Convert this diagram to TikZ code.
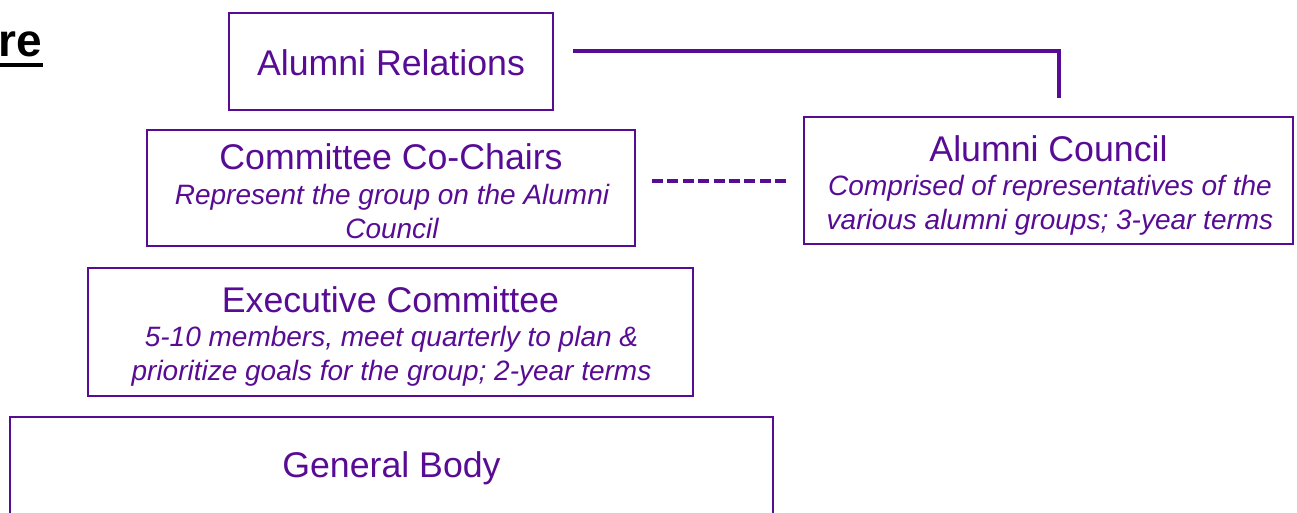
\documentclass[tikz,border=0pt]{standalone}
\usepackage{fontspec}
\setmainfont{Liberation Sans}
\definecolor{pur}{RGB}{88,12,148}
\begin{document}
\begin{tikzpicture}[x=1pt,y=-1pt,
  box/.style={draw=pur,line width=2.5pt,inner sep=0pt},
  ttl/.style={text=pur,font=\fontsize{35.7}{40}\selectfont,inner sep=0pt},
  dsc/.style={text=pur,font=\fontsize{28}{34}\selectfont\itshape,align=center,inner sep=0pt},
  link/.style={draw=pur,line width=3.3pt}]
\useasboundingbox (0,0) rectangle (1297,513);
% header fragment
\node[anchor=base east,font=\fontsize{46}{50}\selectfont\bfseries,inner sep=0pt] (hdr) at (42,57) {re};
\draw[line width=4pt] (0,65) -- (43,65);
% boxes
\node[box,minimum width=324pt,minimum height=97pt] (ar) at (391,61.5) {};
\node[ttl] (art) at (391,63) {Alumni Relations};
\node[box,minimum width=488pt,minimum height=116pt] (cc) at (391,188) {};
\node[ttl] (cct) at (391,157) {Committee Co-Chairs};
\node[dsc] (ccd) at (392,211) {Represent the group on the Alumni\\Council};
\node[box,minimum width=489pt,minimum height=127pt] (ac) at (1048.5,180.5) {};
\node[ttl] (act) at (1048.5,149) {Alumni Council};
\node[dsc] (acd) at (1050,205.5) {Comprised of representatives of the\\various alumni groups; 3-year terms};
\node[box,minimum width=605pt,minimum height=128pt] (ec) at (390.5,332) {};
\node[ttl] (ect) at (390.5,300) {Executive Committee};
\node[dsc] (ecd) at (391.5,356.5) {5-10 members, meet quarterly to plan \&\\prioritize goals for the group; 2-year terms};
\node[box,minimum width=763pt,minimum height=140pt] (gb) at (391.5,487) {};
\node[ttl] (gbt) at (391.5,468) {General Body};
% connectors
\coordinate (c1) at (573,51);
\coordinate (c2) at (1059,98);
\draw[link] (c1) -| (c2);
\coordinate (d1) at (652,181);
\coordinate (d2) at (786,181);
\draw[draw=pur,line width=3.8pt,dash pattern=on 11pt off 4.4pt] (d1) -- (d2);
\end{tikzpicture}
\end{document}
